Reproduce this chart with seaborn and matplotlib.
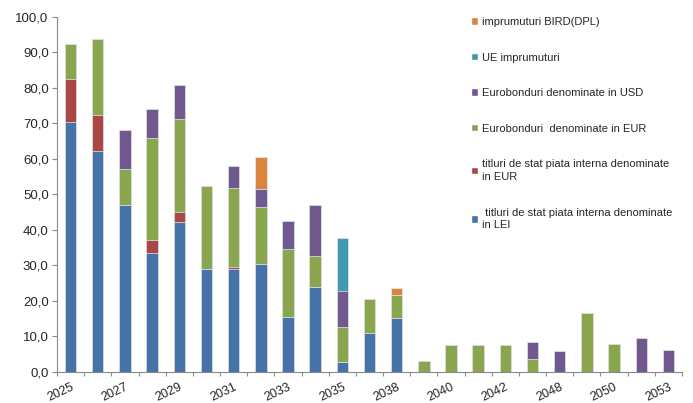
import numpy as np
import seaborn as sns
import matplotlib.pyplot as plt
from matplotlib.patches import Patch
from matplotlib.ticker import FuncFormatter, MultipleLocator

# scadente pe ani (mld.)
years = ["2025", "2026", "2027", "2028", "2029", "2030", "2031", "2032", "2033",
         "2034", "2035", "2036", "2038", "2039", "2040", "2041", "2042", "2044",
         "2048", "2049", "2050", "2051", "2053"]
lei      = [70.3, 62.2, 47.0, 33.4, 42.3, 28.8, 28.8, 30.3, 15.4, 23.9, 2.6, 10.8,
            15.2, 0, 0, 0, 0, 0, 0, 0, 0, 0, 0]
eur_int  = [12.1, 10.2, 0, 3.8, 2.8, 0, 0.6, 0, 0, 0, 0, 0,
            0, 0, 0, 0, 0, 0, 0, 0, 0, 0, 0]
euro_eur = [9.9, 21.2, 10.0, 28.5, 26.1, 23.6, 22.3, 16.1, 19.2, 8.7, 10.0, 9.8,
            6.3, 3.0, 7.4, 7.4, 7.4, 3.7, 0, 16.6, 7.8, 0, 0]
euro_usd = [0, 0, 11.1, 8.3, 9.6, 0, 6.2, 5.1, 7.8, 14.4, 10.0, 0,
            0, 0, 0, 0, 0, 4.8, 5.7, 0, 0, 9.4, 6.0]
ue       = [0, 0, 0, 0, 0, 0, 0, 0, 0, 0, 15.1, 0,
            0, 0, 0, 0, 0, 0, 0, 0, 0, 0, 0]
bird     = [0, 0, 0, 0, 0, 0, 0, 9.0, 0, 0, 0, 0,
            2.1, 0, 0, 0, 0, 0, 0, 0, 0, 0, 0]

labels = [" titluri de stat piata interna denominate\nin LEI",
          "titluri de stat piata interna denominate\nin EUR",
          "Eurobonduri  denominate in EUR",
          "Eurobonduri denominate in USD",
          "UE imprumuturi",
          "imprumuturi BIRD(DPL)"]
colors = ["#4572A7", "#AA4643", "#89A54E", "#71588F", "#4198AF", "#DB843D"]
series = [lei, eur_int, euro_eur, euro_usd, ue, bird]

sns.set_style("white")
plt.rcParams['font.family'] = ['Liberation Sans', 'DejaVu Sans']

fig = plt.figure(figsize=(6.93, 4.03), dpi=100)
ax = fig.add_axes([0.0823, 0.0777, 0.9018, 0.881])

# stacked bars: draw cumulative totals from top layer down
cums = np.cumsum(np.array(series, dtype=float), axis=0)
for i in reversed(range(len(series))):
    sns.barplot(x=years, y=cums[i], order=years, color=colors[i], saturation=1,
                width=0.42, errorbar=None, ax=ax, edgecolor="#e6ebf0", linewidth=0.5)

n = len(years)
ax.set_xlim(-0.5, n - 0.5)
ax.set_ylim(0, 100)
ax.set_xlabel("")
ax.set_ylabel("")

ax.yaxis.set_major_locator(MultipleLocator(10))
ax.yaxis.set_major_formatter(FuncFormatter(lambda v, _: f"{v:.1f}".replace(".", ",")))

ax.set_xticks(range(n))
ax.set_xticklabels([y if i % 2 == 0 else "" for i, y in enumerate(years)],
                   rotation=25, ha="right", va="top", rotation_mode="anchor")
ax.set_xticks(np.arange(-0.5, n, 1), minor=True)
ax.tick_params(axis="x", which="major", bottom=True, length=0, pad=6.5, labelsize=9)
ax.tick_params(axis="x", which="minor", bottom=True, length=3, color="#898989", width=0.8)
ax.tick_params(axis="y", left=True, length=3.5, color="#898989", width=0.8, pad=2.5, labelsize=9.5)

for s in ["top", "right"]:
    ax.spines[s].set_visible(False)
for s in ["left", "bottom"]:
    ax.spines[s].set_color("#898989")
    ax.spines[s].set_linewidth(0.8)

handles = [Patch(facecolor=c) for c in colors]
leg = fig.legend(handles[::-1], labels[::-1], loc="upper left",
                 bbox_to_anchor=(471 / 693, 1 - 17 / 403), frameon=False, fontsize=8,
                 handlelength=0.65, handleheight=0.65, handletextpad=0.3,
                 labelspacing=2.3, borderpad=0, borderaxespad=0)
for t in leg.get_texts():
    t.set_linespacing(1.35)

fig.savefig("out.png", dpi=100)
